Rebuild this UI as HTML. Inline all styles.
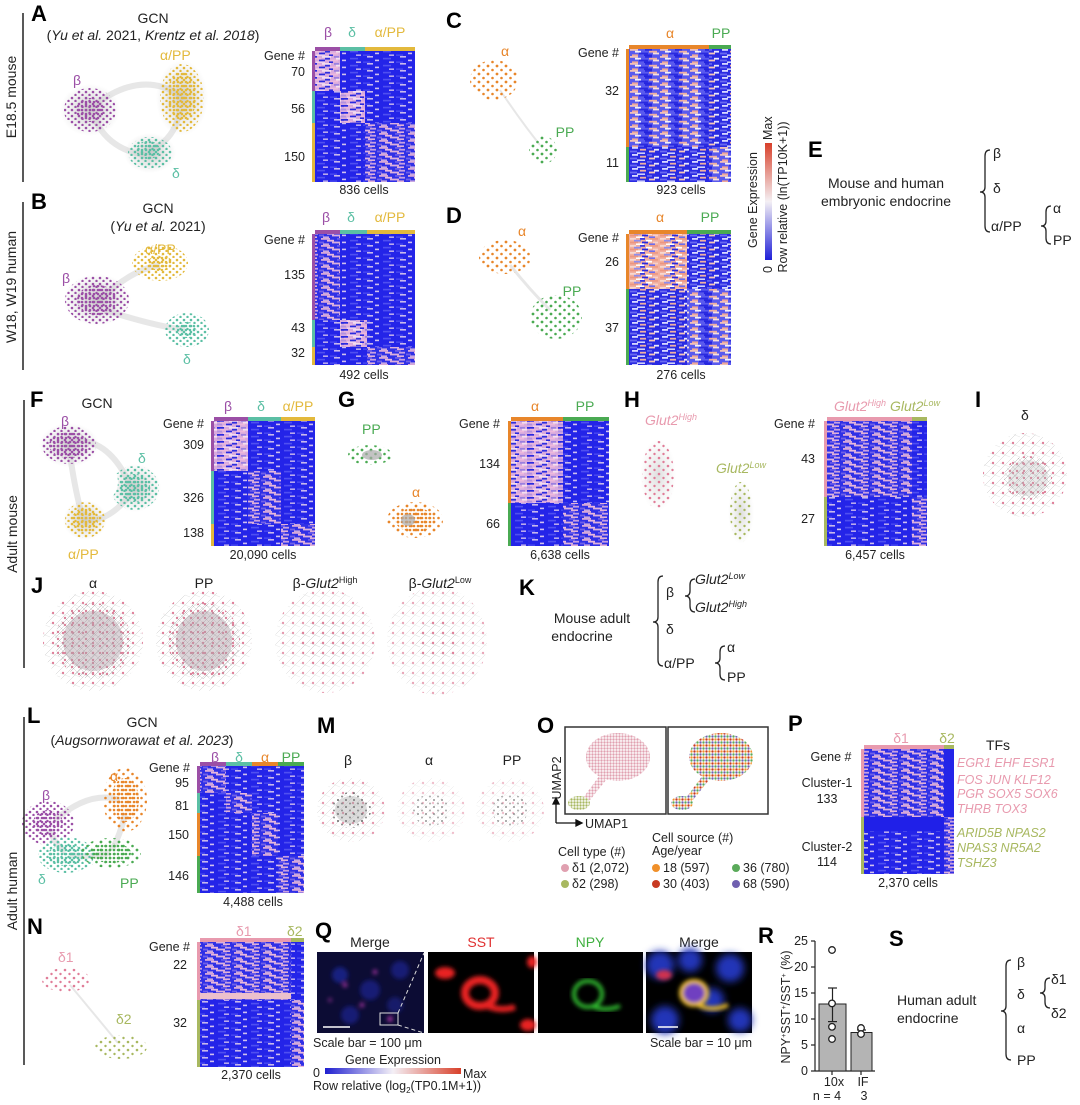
<!DOCTYPE html>
<html><head><meta charset="utf-8"><style>
html,body{margin:0;padding:0;background:#fff}
svg{display:block;font-family:"Liberation Sans",sans-serif}
.L{font-size:22px;font-weight:bold;fill:#000}
.t{font-size:12.5px;fill:#222}
.s{font-size:14px;fill:#222}
</style></head><body>
<svg width="1080" height="1105" viewBox="0 0 1080 1105" xmlns="http://www.w3.org/2000/svg">
<defs>
<linearGradient id="gv" x1="0" y1="1" x2="0" y2="0"><stop offset="0" stop-color="#1f1fd8"/><stop offset=".5" stop-color="#f4f0f4"/><stop offset="1" stop-color="#d8402a"/></linearGradient>
<linearGradient id="gh" x1="0" y1="0" x2="1" y2="0"><stop offset="0" stop-color="#1f1fd0"/><stop offset=".5" stop-color="#f4f0f6"/><stop offset="1" stop-color="#d8402a"/></linearGradient>
<filter id="b2"><feGaussianBlur stdDeviation="2"/></filter>
<filter id="b4"><feGaussianBlur stdDeviation="4"/></filter>
<!-- heatmap textures -->
<pattern id="ph" width="31" height="7" patternUnits="userSpaceOnUse">
<rect width="31" height="7" fill="#d8aade"/>
<rect x="0" y="0" width="7" height="1.8" fill="#2a2ae0"/><rect x="12" y="0" width="9" height="1.8" fill="#f2dcf0"/><rect x="24" y="0" width="5" height="1.8" fill="#9a80e0"/>
<rect x="3" y="1.8" width="8" height="1.8" fill="#eab8dc"/><rect x="15" y="1.8" width="5" height="1.8" fill="#3030e0"/><rect x="26" y="1.8" width="5" height="1.8" fill="#f4e0f0"/>
<rect x="0" y="3.6" width="5" height="1.8" fill="#b090e0"/><rect x="9" y="3.6" width="6" height="1.8" fill="#2a2ae0"/><rect x="20" y="3.6" width="8" height="1.8" fill="#eeb8dc"/>
<rect x="6" y="5.4" width="9" height="1.6" fill="#f0d0ec"/><rect x="19" y="5.4" width="4" height="1.6" fill="#2a2ae0"/>
</pattern>
<pattern id="pm" width="29" height="7" patternUnits="userSpaceOnUse">
<rect width="29" height="7" fill="#3030e6"/>
<rect x="2" y="0" width="9" height="1.8" fill="#d8a8d8"/><rect x="18" y="0" width="6" height="1.8" fill="#6a5ae8"/>
<rect x="8" y="1.8" width="7" height="1.8" fill="#e8b8dc"/><rect x="22" y="1.8" width="6" height="1.8" fill="#c8a0e0"/>
<rect x="0" y="3.6" width="5" height="1.8" fill="#7060e8"/><rect x="13" y="3.6" width="9" height="1.8" fill="#dcb0dc"/>
<rect x="4" y="5.4" width="6" height="1.6" fill="#c8a8e0"/><rect x="20" y="5.4" width="7" height="1.6" fill="#e0b0d8"/>
</pattern>
<pattern id="pl" width="33" height="7" patternUnits="userSpaceOnUse">
<rect width="33" height="7" fill="#2424e8"/>
<rect x="4" y="0" width="6" height="1.6" fill="#c8b8ec"/><rect x="20" y="1.8" width="8" height="1.6" fill="#5050f0"/>
<rect x="12" y="3.6" width="4" height="1.6" fill="#d0c0ee"/><rect x="26" y="5.4" width="5" height="1.6" fill="#b8a8ec"/><rect x="0" y="5.4" width="7" height="1.6" fill="#4444f0"/>
</pattern>
<pattern id="rh" width="30" height="7" patternUnits="userSpaceOnUse">
<rect width="30" height="7" fill="#f2b0a0"/>
<rect x="0" y="0" width="6" height="1.8" fill="#f8d8d0"/><rect x="10" y="0" width="5" height="1.8" fill="#3a3ae0"/><rect x="20" y="0" width="8" height="1.8" fill="#ee9a86"/>
<rect x="4" y="1.8" width="7" height="1.8" fill="#8c8cf0"/><rect x="16" y="1.8" width="6" height="1.8" fill="#fff"/>
<rect x="0" y="3.6" width="8" height="1.8" fill="#ec9680"/><rect x="12" y="3.6" width="6" height="1.8" fill="#2a2ae0"/><rect x="23" y="3.6" width="5" height="1.8" fill="#f8d0c8"/>
<rect x="6" y="5.4" width="8" height="1.6" fill="#ffffff"/><rect x="19" y="5.4" width="6" height="1.6" fill="#6c6cee"/>
</pattern>
<pattern id="rm" width="30" height="7" patternUnits="userSpaceOnUse">
<rect width="30" height="7" fill="#5a5aee"/>
<rect x="0" y="0" width="8" height="1.8" fill="#f0c0b8"/><rect x="15" y="0" width="7" height="1.8" fill="#2a2ae0"/>
<rect x="5" y="1.8" width="6" height="1.8" fill="#f4f0f8"/><rect x="19" y="1.8" width="8" height="1.8" fill="#f0b0a0"/>
<rect x="9" y="3.6" width="9" height="1.8" fill="#2a2ae0"/><rect x="23" y="3.6" width="6" height="1.8" fill="#f8e0dc"/>
<rect x="2" y="5.4" width="6" height="1.6" fill="#f0a898"/><rect x="14" y="5.4" width="8" height="1.6" fill="#2424e0"/>
</pattern>
<pattern id="rl" width="30" height="7" patternUnits="userSpaceOnUse">
<rect width="30" height="7" fill="#2a2ae2"/>
<rect x="2" y="0" width="6" height="1.8" fill="#d8d8ff"/><rect x="17" y="0" width="5" height="1.8" fill="#6060f0"/>
<rect x="10" y="1.8" width="6" height="1.8" fill="#f0b0a0"/><rect x="24" y="1.8" width="5" height="1.8" fill="#e8e8ff"/>
<rect x="0" y="3.6" width="7" height="1.8" fill="#6a6af0"/><rect x="19" y="3.6" width="6" height="1.8" fill="#f4c4b8"/>
<rect x="7" y="5.4" width="8" height="1.6" fill="#d0d0fa"/>
</pattern>
<!-- node textures -->
<pattern id="npu" width="4" height="4" patternUnits="userSpaceOnUse"><circle cx="2" cy="2" r="1.3" fill="#9b4fa6"/></pattern>
<pattern id="nye" width="4" height="4" patternUnits="userSpaceOnUse"><circle cx="2" cy="2" r="1.3" fill="#e3b93c"/></pattern>
<pattern id="nte" width="4" height="4" patternUnits="userSpaceOnUse"><circle cx="2" cy="2" r="1.3" fill="#5bbfa4"/></pattern>
<pattern id="nor" width="4" height="4" patternUnits="userSpaceOnUse"><circle cx="2" cy="2" r="1.3" fill="#e8862a"/></pattern>
<pattern id="ngr" width="4" height="4" patternUnits="userSpaceOnUse"><circle cx="2" cy="2" r="1.3" fill="#4aaa52"/></pattern>
<pattern id="spu" width="7" height="6" patternUnits="userSpaceOnUse"><circle cx="2" cy="2" r="1.3" fill="#9b4fa6"/><circle cx="5.5" cy="5" r="1.2" fill="#9b4fa6"/></pattern>
<pattern id="sye" width="7" height="6" patternUnits="userSpaceOnUse"><circle cx="2" cy="2" r="1.3" fill="#e3b93c"/><circle cx="5.5" cy="5" r="1.2" fill="#e3b93c"/></pattern>
<pattern id="ste" width="7" height="6" patternUnits="userSpaceOnUse"><circle cx="2" cy="2" r="1.3" fill="#5bbfa4"/><circle cx="5.5" cy="5" r="1.2" fill="#5bbfa4"/></pattern>
<pattern id="sor" width="9" height="8" patternUnits="userSpaceOnUse"><circle cx="2" cy="2" r="1.4" fill="#e8862a"/><circle cx="6.5" cy="6" r="1.3" fill="#e8862a"/></pattern>
<pattern id="sgr" width="9" height="8" patternUnits="userSpaceOnUse"><circle cx="2" cy="2" r="1.4" fill="#4aaa52"/><circle cx="6.5" cy="6" r="1.3" fill="#4aaa52"/></pattern>
<pattern id="spk" width="9" height="8" patternUnits="userSpaceOnUse"><circle cx="2" cy="2" r="1.3" fill="#e07d98"/><circle cx="6.5" cy="6" r="1.2" fill="#e07d98"/></pattern>
<pattern id="sol" width="9" height="8" patternUnits="userSpaceOnUse"><circle cx="2" cy="2" r="1.3" fill="#a8b860"/><circle cx="6.5" cy="6" r="1.2" fill="#a8b860"/></pattern>
<pattern id="sgy" width="8" height="7" patternUnits="userSpaceOnUse"><circle cx="2" cy="2" r="1" fill="#666"/><circle cx="6" cy="5.5" r="1" fill="#888"/></pattern>
<pattern id="jpk" width="7" height="7" patternUnits="userSpaceOnUse"><circle cx="2" cy="2" r="1.2" fill="#e07d98"/><line x1="0" y1="7" x2="7" y2="0" stroke="#999" stroke-width=".4"/><line x1="0" y1="0" x2="7" y2="7" stroke="#aaa" stroke-width=".3"/></pattern>
<pattern id="jpl" width="10" height="10" patternUnits="userSpaceOnUse"><circle cx="3" cy="3" r="1.2" fill="#e07d98"/><line x1="0" y1="10" x2="10" y2="0" stroke="#bbb" stroke-width=".4"/><line x1="0" y1="3" x2="10" y2="7" stroke="#ccc" stroke-width=".3"/></pattern>
<pattern id="upk" width="3" height="3" patternUnits="userSpaceOnUse"><rect width="3" height="3" fill="#fff"/><circle cx="1.5" cy="1.5" r="1.2" fill="#e0a0b0"/></pattern>
<pattern id="umx" width="6" height="6" patternUnits="userSpaceOnUse"><rect width="6" height="6" fill="#fff"/><circle cx="1.5" cy="1.5" r="1.2" fill="#f0902a"/><circle cx="4.5" cy="1.5" r="1.2" fill="#c83a22"/><circle cx="1.5" cy="4.5" r="1.2" fill="#5aaa5a"/><circle cx="4.5" cy="4.5" r="1.2" fill="#7060b0"/></pattern>
<pattern id="uol" width="3" height="3" patternUnits="userSpaceOnUse"><rect width="3" height="3" fill="#fff"/><circle cx="1.5" cy="1.5" r="1.2" fill="#a8b860"/></pattern>
<radialGradient id="halo"><stop offset="0" stop-color="#bbb" stop-opacity=".8"/><stop offset="1" stop-color="#ccc" stop-opacity="0"/></radialGradient>
</defs>
<rect width="1080" height="1105" fill="#fff"/>

<!-- ===== HEATMAPS ===== -->
<!-- A -->
<g>
<rect x="315" y="47" width="25" height="4" fill="#9b4fa6"/><rect x="340" y="47" width="25" height="4" fill="#5bbfa4"/><rect x="365" y="47" width="50" height="4" fill="#e3b93c"/>
<rect x="312" y="51" width="3" height="40" fill="#9b4fa6"/><rect x="312" y="91" width="3" height="32" fill="#5bbfa4"/><rect x="312" y="123" width="3" height="59" fill="#e3b93c"/>
<rect x="315" y="51" width="25" height="40" fill="url(#ph)"/><rect x="340" y="51" width="75" height="40" fill="url(#pl)"/>
<rect x="315" y="91" width="25" height="32" fill="url(#pl)"/><rect x="340" y="91" width="25" height="32" fill="url(#ph)"/><rect x="365" y="91" width="50" height="32" fill="url(#pl)"/>
<rect x="315" y="123" width="50" height="59" fill="url(#pl)"/><rect x="365" y="123" width="50" height="59" fill="url(#pm)"/>
</g>
<!-- B -->
<g>
<rect x="315" y="230" width="25" height="4" fill="#9b4fa6"/><rect x="340" y="230" width="27" height="4" fill="#5bbfa4"/><rect x="367" y="230" width="48" height="4" fill="#e3b93c"/>
<rect x="312" y="234" width="3" height="86" fill="#9b4fa6"/><rect x="312" y="320" width="3" height="27" fill="#5bbfa4"/><rect x="312" y="347" width="3" height="18" fill="#e3b93c"/>
<rect x="315" y="234" width="25" height="86" fill="url(#pm)"/><rect x="340" y="234" width="75" height="86" fill="url(#pl)"/>
<rect x="315" y="320" width="25" height="27" fill="url(#pl)"/><rect x="340" y="320" width="27" height="27" fill="url(#ph)"/><rect x="367" y="320" width="48" height="27" fill="url(#pl)"/>
<rect x="315" y="347" width="52" height="18" fill="url(#pl)"/><rect x="367" y="347" width="48" height="18" fill="url(#pm)"/>
</g>
<!-- C -->
<g>
<rect x="629" y="45" width="80" height="4" fill="#e8862a"/><rect x="709" y="45" width="22" height="4" fill="#4aaa52"/>
<rect x="626" y="49" width="3" height="98" fill="#e8862a"/><rect x="626" y="147" width="3" height="35" fill="#4aaa52"/>
<rect x="629" y="49" width="80" height="98" fill="url(#rm)"/><rect x="709" y="49" width="22" height="98" fill="url(#rl)"/>
<rect x="629" y="147" width="80" height="35" fill="url(#rl)"/><rect x="709" y="147" width="22" height="35" fill="url(#rm)"/>
</g>
<!-- D -->
<g>
<rect x="629" y="230" width="58" height="4" fill="#e8862a"/><rect x="687" y="230" width="44" height="4" fill="#4aaa52"/>
<rect x="626" y="234" width="3" height="55" fill="#e8862a"/><rect x="626" y="289" width="3" height="76" fill="#4aaa52"/>
<rect x="629" y="234" width="58" height="55" fill="url(#rh)"/><rect x="687" y="234" width="44" height="55" fill="url(#rl)"/>
<rect x="629" y="289" width="58" height="76" fill="url(#rl)"/><rect x="687" y="289" width="44" height="76" fill="url(#rm)"/>
</g>
<!-- F -->
<g>
<rect x="214" y="417" width="34" height="4" fill="#9b4fa6"/><rect x="248" y="417" width="33" height="4" fill="#5bbfa4"/><rect x="281" y="417" width="34" height="4" fill="#e3b93c"/>
<rect x="211" y="421" width="3" height="50" fill="#9b4fa6"/><rect x="211" y="471" width="3" height="53" fill="#5bbfa4"/><rect x="211" y="524" width="3" height="22" fill="#e3b93c"/>
<rect x="214" y="421" width="34" height="50" fill="url(#ph)"/><rect x="248" y="421" width="67" height="50" fill="url(#pl)"/>
<rect x="214" y="471" width="34" height="53" fill="url(#pl)"/><rect x="248" y="471" width="33" height="53" fill="url(#pm)"/><rect x="281" y="471" width="34" height="53" fill="url(#pl)"/>
<rect x="214" y="524" width="67" height="22" fill="url(#pl)"/><rect x="281" y="524" width="34" height="22" fill="url(#pm)"/>
</g>
<!-- G -->
<g>
<rect x="511" y="417" width="52" height="4" fill="#e8862a"/><rect x="563" y="417" width="46" height="4" fill="#4aaa52"/>
<rect x="508" y="421" width="3" height="82" fill="#e8862a"/><rect x="508" y="503" width="3" height="43" fill="#4aaa52"/>
<rect x="511" y="421" width="52" height="82" fill="url(#ph)"/><rect x="563" y="421" width="46" height="82" fill="url(#pl)"/>
<rect x="511" y="503" width="52" height="43" fill="url(#pl)"/><rect x="563" y="503" width="46" height="43" fill="url(#pm)"/>
</g>
<!-- H -->
<g>
<rect x="827" y="417" width="85" height="4" fill="#e89aae"/><rect x="912" y="417" width="15" height="4" fill="#a8b860"/>
<rect x="824" y="421" width="3" height="76" fill="#e89aae"/><rect x="824" y="497" width="3" height="49" fill="#a8b860"/>
<rect x="827" y="421" width="85" height="76" fill="url(#pm)"/><rect x="912" y="421" width="15" height="76" fill="url(#pl)"/>
<rect x="827" y="497" width="85" height="49" fill="url(#pl)"/><rect x="912" y="497" width="15" height="49" fill="url(#pm)"/>
</g>
<!-- L -->
<g>
<rect x="200" y="762" width="26" height="4" fill="#9b4fa6"/><rect x="226" y="762" width="26" height="4" fill="#5bbfa4"/><rect x="252" y="762" width="26" height="4" fill="#e8862a"/><rect x="278" y="762" width="26" height="4" fill="#4aaa52"/>
<rect x="197" y="766" width="3" height="27" fill="#9b4fa6"/><rect x="197" y="793" width="3" height="20" fill="#5bbfa4"/><rect x="197" y="813" width="3" height="43" fill="#e8862a"/><rect x="197" y="856" width="3" height="37" fill="#4aaa52"/>
<rect x="200" y="766" width="104" height="127" fill="url(#pl)"/>
<rect x="200" y="766" width="26" height="27" fill="url(#pm)"/><rect x="226" y="793" width="26" height="20" fill="url(#pm)"/><rect x="252" y="813" width="26" height="43" fill="url(#pm)"/><rect x="278" y="856" width="26" height="37" fill="url(#pm)"/>
</g>
<!-- N -->
<g>
<rect x="200" y="938" width="91" height="4" fill="#e89aae"/><rect x="291" y="938" width="13" height="4" fill="#a8b860"/>
<rect x="197" y="942" width="3" height="58" fill="#e89aae"/><rect x="197" y="1000" width="3" height="67" fill="#a8b860"/>
<rect x="200" y="942" width="91" height="58" fill="url(#pm)"/><rect x="291" y="942" width="13" height="58" fill="url(#pl)"/>
<rect x="200" y="1000" width="91" height="67" fill="url(#pl)"/><rect x="291" y="1000" width="13" height="67" fill="url(#pm)"/>
<rect x="200" y="993" width="91" height="6" fill="#ecc0cc"/>
</g>
<!-- P -->
<g>
<rect x="864" y="745" width="80" height="4" fill="#e89aae"/><rect x="944" y="745" width="10" height="4" fill="#a8b860"/>
<rect x="861" y="749" width="3" height="68" fill="#e89aae"/><rect x="861" y="817" width="3" height="57" fill="#a8b860"/>
<rect x="864" y="749" width="80" height="68" fill="url(#pm)"/><rect x="944" y="749" width="10" height="68" fill="#2424e8"/>
<rect x="864" y="817" width="80" height="57" fill="url(#pl)"/><rect x="864" y="817" width="80" height="14" fill="#2020e8"/><rect x="944" y="817" width="10" height="57" fill="url(#pm)"/>
</g>

<!-- ===== NETWORKS ===== -->
<g stroke="#bbb" stroke-width="6" stroke-opacity=".35" fill="none">
<path d="M95,105 Q140,70 180,95"/><path d="M180,110 Q175,140 150,150"/><path d="M95,120 Q110,150 145,155"/>
<path d="M100,300 Q130,270 160,265"/><path d="M105,310 Q150,325 185,330"/>
<path d="M75,440 Q110,440 130,485"/><path d="M130,495 Q110,520 90,520"/><path d="M70,455 Q75,490 82,515"/>
<path d="M55,820 Q90,790 120,800"/><path d="M70,855 Q90,858 110,853"/><path d="M50,830 Q55,845 65,852"/><path d="M125,815 Q120,835 112,850"/>
<path d="M500,90 Q520,120 540,145" stroke-width="2"/><path d="M510,265 Q530,290 550,310" stroke-width="3"/><path d="M70,985 Q95,1015 118,1043" stroke-width="2"/>
</g>
<g>
<!-- A -->
<ellipse cx="90" cy="110" rx="30" ry="26" fill="url(#halo)"/><ellipse cx="90" cy="110" rx="26" ry="22" fill="url(#spu)"/><ellipse cx="90" cy="110" rx="14" ry="12" fill="url(#npu)"/>
<ellipse cx="182" cy="98" rx="26" ry="38" fill="url(#halo)"/><ellipse cx="182" cy="98" rx="22" ry="34" fill="url(#sye)"/><ellipse cx="182" cy="96" rx="15" ry="24" fill="url(#nye)"/>
<ellipse cx="150" cy="153" rx="26" ry="20" fill="url(#halo)"/><ellipse cx="150" cy="153" rx="22" ry="16" fill="url(#ste)"/><ellipse cx="148" cy="150" rx="12" ry="9" fill="url(#nte)"/>
<!-- B -->
<ellipse cx="97" cy="300" rx="34" ry="26" fill="url(#halo)"/><ellipse cx="97" cy="300" rx="32" ry="24" fill="url(#spu)"/><ellipse cx="97" cy="300" rx="20" ry="15" fill="url(#npu)"/>
<ellipse cx="160" cy="263" rx="28" ry="18" fill="url(#sye)"/><ellipse cx="160" cy="263" rx="12" ry="8" fill="url(#nye)"/>
<ellipse cx="187" cy="330" rx="22" ry="17" fill="url(#ste)"/><ellipse cx="187" cy="330" rx="10" ry="8" fill="url(#nte)"/>
<!-- C D -->
<ellipse cx="494" cy="80" rx="24" ry="20" fill="url(#sor)"/>
<ellipse cx="543" cy="150" rx="14" ry="14" fill="url(#sgr)"/>
<ellipse cx="505" cy="257" rx="26" ry="17" fill="url(#sor)"/>
<ellipse cx="556" cy="317" rx="26" ry="22" fill="url(#sgr)"/>
<!-- F -->
<ellipse cx="69" cy="445" rx="30" ry="22" fill="url(#halo)"/><ellipse cx="69" cy="445" rx="27" ry="19" fill="url(#spu)"/><ellipse cx="69" cy="445" rx="20" ry="13" fill="url(#npu)"/>
<ellipse cx="135" cy="488" rx="26" ry="24" fill="url(#halo)"/><ellipse cx="135" cy="488" rx="24" ry="22" fill="url(#ste)"/><ellipse cx="135" cy="488" rx="15" ry="14" fill="url(#nte)"/>
<ellipse cx="85" cy="520" rx="22" ry="20" fill="url(#halo)"/><ellipse cx="85" cy="520" rx="20" ry="18" fill="url(#sye)"/><ellipse cx="85" cy="520" rx="13" ry="12" fill="url(#nye)"/>
<ellipse cx="100" cy="482" rx="18" ry="20" fill="#fff"/>
<!-- G -->
<ellipse cx="370" cy="455" rx="22" ry="10" fill="url(#sgr)"/><ellipse cx="372" cy="455" rx="10" ry="5" fill="#aaa" opacity=".7"/>
<ellipse cx="415" cy="520" rx="28" ry="18" fill="url(#sor)"/><ellipse cx="415" cy="520" rx="20" ry="12" fill="url(#nor)"/><ellipse cx="408" cy="520" rx="7" ry="6" fill="#aaa" opacity=".7"/>
<!-- H -->
<ellipse cx="658" cy="475" rx="18" ry="36" fill="url(#halo)" opacity=".6"/><ellipse cx="658" cy="475" rx="16" ry="34" fill="url(#spk)"/>
<ellipse cx="741" cy="512" rx="13" ry="32" fill="url(#halo)" opacity=".6"/><ellipse cx="741" cy="512" rx="11" ry="30" fill="url(#sol)"/>
<!-- I -->
<ellipse cx="1025" cy="475" rx="42" ry="42" fill="url(#jpl)"/><ellipse cx="1028" cy="478" rx="24" ry="22" fill="url(#jpk)"/><ellipse cx="1028" cy="478" rx="20" ry="18" fill="#bbb" opacity=".3"/>
<!-- J -->
<ellipse cx="93" cy="641" rx="50" ry="50" fill="url(#jpl)"/><ellipse cx="93" cy="641" rx="38" ry="38" fill="url(#jpk)"/><ellipse cx="93" cy="641" rx="30" ry="30" fill="#b0a0a8" opacity=".45"/>
<ellipse cx="204" cy="641" rx="48" ry="50" fill="url(#jpl)"/><ellipse cx="204" cy="641" rx="36" ry="38" fill="url(#jpk)"/><ellipse cx="204" cy="641" rx="28" ry="30" fill="#b0a0a8" opacity=".45"/>
<ellipse cx="325" cy="641" rx="50" ry="52" fill="url(#jpl)" opacity=".8"/><ellipse cx="325" cy="641" rx="25" ry="26" fill="url(#jpl)"/>
<ellipse cx="437" cy="641" rx="50" ry="54" fill="url(#jpl)" opacity=".7"/><ellipse cx="437" cy="641" rx="22" ry="22" fill="url(#jpl)"/>
<!-- L -->
<ellipse cx="48" cy="823" rx="26" ry="22" fill="url(#spu)"/><ellipse cx="48" cy="823" rx="15" ry="13" fill="url(#npu)"/>
<ellipse cx="125" cy="800" rx="22" ry="32" fill="url(#sor)"/><ellipse cx="125" cy="800" rx="14" ry="22" fill="url(#nor)"/>
<ellipse cx="66" cy="855" rx="28" ry="18" fill="url(#ste)"/><ellipse cx="66" cy="855" rx="18" ry="11" fill="url(#nte)"/>
<ellipse cx="111" cy="853" rx="30" ry="15" fill="url(#sgr)"/><ellipse cx="111" cy="853" rx="20" ry="10" fill="url(#ngr)"/>
<!-- M -->
<ellipse cx="351" cy="810" rx="34" ry="32" fill="url(#jpl)" opacity=".8"/><ellipse cx="351" cy="810" rx="20" ry="18" fill="url(#sgy)"/><ellipse cx="351" cy="810" rx="16" ry="14" fill="#999" opacity=".35"/>
<ellipse cx="431" cy="810" rx="34" ry="32" fill="url(#jpl)" opacity=".5"/><ellipse cx="431" cy="810" rx="18" ry="16" fill="url(#sgy)" opacity=".7"/>
<ellipse cx="510" cy="810" rx="34" ry="32" fill="url(#jpl)" opacity=".5"/><ellipse cx="510" cy="810" rx="18" ry="16" fill="url(#sgy)" opacity=".7"/>
<!-- N -->
<ellipse cx="66" cy="980" rx="24" ry="12" fill="url(#spk)"/>
<ellipse cx="121" cy="1047" rx="26" ry="12" fill="url(#sol)"/>
</g>

<!-- side lines -->
<g stroke="#222" stroke-width="1.5">
<line x1="23" y1="13" x2="23" y2="182"/><line x1="23" y1="202" x2="23" y2="370"/>
<line x1="24" y1="400" x2="24" y2="668"/><line x1="24" y1="717" x2="24" y2="1065"/>
</g>
<g class="s">
<text transform="translate(16,97) rotate(-90)" text-anchor="middle">E18.5 mouse</text>
<text transform="translate(16,287) rotate(-90)" text-anchor="middle">W18, W19  human</text>
<text transform="translate(17,534) rotate(-90)" text-anchor="middle">Adult mouse</text>
<text transform="translate(17,891) rotate(-90)" text-anchor="middle">Adult human</text>
</g>

<g class="L">
<text x="31" y="21">A</text><text x="31" y="209">B</text><text x="446" y="28">C</text><text x="446" y="223">D</text><text x="808" y="157">E</text>
<text x="30" y="407">F</text><text x="338" y="407">G</text><text x="624" y="407">H</text><text x="975" y="407">I</text>
<text x="31" y="593">J</text><text x="519" y="595">K</text>
<text x="27" y="723">L</text><text x="317" y="733">M</text><text x="537" y="733">O</text><text x="788" y="731">P</text>
<text x="27" y="934">N</text><text x="315" y="938">Q</text><text x="758" y="943">R</text><text x="889" y="946">S</text>
</g>

<g class="s" text-anchor="middle">
<text x="153" y="23">GCN</text>
<text x="153" y="40">(<tspan font-style="italic">Yu et al.</tspan> 2021, <tspan font-style="italic">Krentz et al. 2018</tspan>)</text>
<text x="158" y="213">GCN</text>
<text x="158" y="231">(<tspan font-style="italic">Yu et al.</tspan> 2021)</text>
</g>
<g class="s">
<text x="73" y="85" style="fill:#9b4fa6">β</text>
<text x="160" y="60" style="fill:#e3b93c">α/PP</text>
<text x="172" y="178" style="fill:#5bbfa4">δ</text>
<text x="62" y="283" style="fill:#9b4fa6">β</text>
<text x="145" y="254" style="fill:#e3b93c">α/PP</text>
<text x="183" y="364" style="fill:#5bbfa4">δ</text>
</g>
<g class="t" text-anchor="end">
<text x="305" y="60">Gene #</text><text x="305" y="76">70</text><text x="305" y="113">56</text><text x="305" y="161">150</text>
<text x="305" y="244">Gene #</text><text x="305" y="279">135</text><text x="305" y="332">43</text><text x="305" y="357">32</text>
<text x="619" y="57">Gene #</text><text x="619" y="95">32</text><text x="619" y="167">11</text>
<text x="619" y="242">Gene #</text><text x="619" y="266">26</text><text x="619" y="332">37</text>
</g>
<g class="s" text-anchor="middle">
<text x="328" y="37" style="fill:#9b4fa6">β</text><text x="352" y="37" style="fill:#5bbfa4">δ</text><text x="390" y="37" style="fill:#e3b93c">α/PP</text>
<text x="326" y="222" style="fill:#9b4fa6">β</text><text x="351" y="222" style="fill:#5bbfa4">δ</text><text x="390" y="222" style="fill:#e3b93c">α/PP</text>
<text x="670" y="38" style="fill:#e8862a">α</text><text x="721" y="38" style="fill:#4aaa52">PP</text>
<text x="660" y="222" style="fill:#e8862a">α</text><text x="710" y="222" style="fill:#4aaa52">PP</text>
<text x="505" y="56" style="fill:#e8862a">α</text><text x="565" y="137" style="fill:#4aaa52">PP</text>
<text x="522" y="236" style="fill:#e8862a">α</text><text x="572" y="296" style="fill:#4aaa52">PP</text>
</g>
<g class="t" text-anchor="middle">
<text x="364" y="194">836 cells</text><text x="364" y="379">492 cells</text>
<text x="681" y="194">923 cells</text><text x="681" y="379">276 cells</text>
</g>
<rect x="765" y="143" width="7" height="117" fill="url(#gv)"/>
<g class="t" font-size="11.5">
<text transform="translate(772,140) rotate(-90)">Max</text>
<text transform="translate(772,273) rotate(-90)">0</text>
<text transform="translate(757,200) rotate(-90)" text-anchor="middle">Gene Expression</text>
<text transform="translate(787,197) rotate(-90)" text-anchor="middle">Row relative (ln(TP10K+1))</text>
</g>
<g class="s">
<text x="886" y="188" text-anchor="middle">Mouse and human</text>
<text x="886" y="206" text-anchor="middle">embryonic endocrine</text>
<text x="993" y="158">β</text><text x="993" y="193">δ</text><text x="991" y="231">α/PP</text>
<text x="1053" y="213">α</text><text x="1053" y="245">PP</text>
</g>

<g class="s">
<text x="97" y="408" text-anchor="middle">GCN</text>
<text x="61" y="426" style="fill:#9b4fa6">β</text><text x="138" y="463" style="fill:#5bbfa4">δ</text><text x="68" y="559" style="fill:#e3b93c">α/PP</text>
<text x="362" y="434" style="fill:#4aaa52">PP</text><text x="412" y="497" style="fill:#e8862a">α</text>
<text x="1021" y="420">δ</text>
<text x="228" y="411" text-anchor="middle" style="fill:#9b4fa6">β</text><text x="261" y="411" text-anchor="middle" style="fill:#5bbfa4">δ</text><text x="298" y="411" text-anchor="middle" style="fill:#e3b93c">α/PP</text>
<text x="535" y="411" text-anchor="middle" style="fill:#e8862a">α</text><text x="585" y="411" text-anchor="middle" style="fill:#4aaa52">PP</text>
<text x="645" y="425" font-style="italic" style="fill:#e89aae">Glut2<tspan dy="-5" font-size="9">High</tspan></text>
<text x="716" y="473" font-style="italic" style="fill:#a8b860">Glut2<tspan dy="-5" font-size="9">Low</tspan></text>
<text x="834" y="411" font-style="italic" style="fill:#e89aae">Glut2<tspan dy="-5" font-size="9">High</tspan></text>
<text x="890" y="411" font-style="italic" style="fill:#a8b860">Glut2<tspan dy="-5" font-size="9">Low</tspan></text>
</g>
<g class="t" text-anchor="end">
<text x="204" y="428">Gene #</text><text x="204" y="449">309</text><text x="204" y="502">326</text><text x="204" y="537">138</text>
<text x="500" y="428">Gene #</text><text x="500" y="468">134</text><text x="500" y="528">66</text>
<text x="815" y="428">Gene #</text><text x="815" y="463">43</text><text x="815" y="523">27</text>
</g>
<g class="t" text-anchor="middle">
<text x="263" y="559">20,090 cells</text><text x="560" y="559">6,638 cells</text><text x="875" y="559">6,457 cells</text>
</g>
<g class="s" text-anchor="middle">
<text x="93" y="588">α</text><text x="204" y="588">PP</text>
<text x="325" y="588">β-<tspan font-style="italic">Glut2</tspan><tspan dy="-5" font-size="9">High</tspan></text>
<text x="440" y="588">β-<tspan font-style="italic">Glut2</tspan><tspan dy="-5" font-size="9">Low</tspan></text>
</g>
<g class="s">
<text x="592" y="623" text-anchor="middle">Mouse adult</text><text x="582" y="641" text-anchor="middle">endocrine</text>
<text x="666" y="597">β</text><text x="666" y="634">δ</text><text x="664" y="668">α/PP</text>
<text x="695" y="584" font-style="italic">Glut2<tspan dy="-5" font-size="9">Low</tspan></text>
<text x="695" y="612" font-style="italic">Glut2<tspan dy="-5" font-size="9">High</tspan></text>
<text x="727" y="652">α</text><text x="727" y="682">PP</text>
</g>

<g class="s" text-anchor="middle">
<text x="142" y="727">GCN</text>
<text x="142" y="745">(<tspan font-style="italic">Augsornworawat et al. 2023</tspan>)</text>
<text x="215" y="762" style="fill:#9b4fa6">β</text><text x="239" y="762" style="fill:#5bbfa4">δ</text><text x="265" y="762" style="fill:#e8862a">α</text><text x="291" y="762" style="fill:#4aaa52">PP</text>
<text x="348" y="765">β</text><text x="429" y="765">α</text><text x="512" y="765">PP</text>
</g>
<g class="s">
<text x="42" y="800" style="fill:#9b4fa6">β</text><text x="110" y="781" style="fill:#e8862a">α</text>
<text x="38" y="884" style="fill:#5bbfa4">δ</text><text x="120" y="888" style="fill:#4aaa52">PP</text>
<text x="58" y="962" style="fill:#e89aae">δ1</text><text x="116" y="1024" style="fill:#a8b860">δ2</text>
<text x="236" y="936" style="fill:#e89aae">δ1</text><text x="287" y="936" style="fill:#a8b860">δ2</text>
</g>
<g class="t" text-anchor="end">
<text x="190" y="772">Gene #</text><text x="189" y="787">95</text><text x="189" y="810">81</text><text x="189" y="839">150</text><text x="189" y="880">146</text>
<text x="190" y="951">Gene #</text><text x="187" y="969">22</text><text x="187" y="1027">32</text>
</g>
<g class="t" text-anchor="middle"><text x="253" y="906">4,488 cells</text><text x="251" y="1079">2,370 cells</text></g>

<!-- O -->
<ellipse cx="618" cy="757" rx="32" ry="24" fill="url(#upk)"/>
<path d="M600,775 L583,798 L590,800 L606,780Z" fill="url(#upk)"/>
<ellipse cx="579" cy="803" rx="11" ry="7" fill="url(#uol)"/>
<ellipse cx="721" cy="757" rx="32" ry="24" fill="url(#umx)"/>
<path d="M703,775 L686,798 L693,800 L709,780Z" fill="url(#umx)"/>
<ellipse cx="682" cy="803" rx="11" ry="7" fill="url(#umx)"/>
<rect x="565" y="727" width="101" height="87" fill="none" stroke="#333" stroke-width="1.5"/>
<rect x="668" y="727" width="100" height="87" fill="none" stroke="#333" stroke-width="1.5"/>
<g stroke="#111" stroke-width="1.3" fill="#111">
<line x1="556" y1="823" x2="556" y2="802"/><path d="M553,804 L556,798 L559,804Z"/>
<line x1="556" y1="823" x2="578" y2="823"/><path d="M576,820 L582,823 L576,826Z"/>
</g>
<g class="t">
<text transform="translate(561,778) rotate(-90)" text-anchor="middle">UMAP2</text>
<text x="585" y="828">UMAP1</text>
<text x="558" y="856">Cell type (#)</text>
<text x="572" y="872">δ1 (2,072)</text><text x="572" y="888">δ2 (298)</text>
<text x="652" y="842">Cell source (#)</text><text x="652" y="855">Age/year</text>
<text x="663" y="872">18 (597)</text><text x="663" y="888">30 (403)</text>
<text x="743" y="872">36 (780)</text><text x="743" y="888">68 (590)</text>
</g>
<circle cx="565" cy="868" r="4" fill="#e0a0b0"/><circle cx="565" cy="884" r="4" fill="#a8b860"/>
<circle cx="656" cy="868" r="4" fill="#f0902a"/><circle cx="656" cy="884" r="4" fill="#c83a22"/>
<circle cx="736" cy="868" r="4" fill="#5aaa5a"/><circle cx="736" cy="884" r="4" fill="#7060b0"/>

<!-- P -->
<g class="s"><text x="901" y="743" text-anchor="middle" style="fill:#e89aae">δ1</text><text x="947" y="743" text-anchor="middle" style="fill:#a8b860">δ2</text>
<text x="998" y="750" text-anchor="middle">TFs</text></g>
<g class="t" text-anchor="middle">
<text x="831" y="761">Gene #</text><text x="827" y="787">Cluster-1</text><text x="827" y="803">133</text>
<text x="827" y="851">Cluster-2</text><text x="827" y="866">114</text>
<text x="908" y="887">2,370 cells</text>
</g>
<g class="t" font-style="italic" font-size="12">
<text x="957" y="767" style="fill:#e89aae">EGR1 EHF ESR1</text>
<text x="957" y="784" style="fill:#e89aae">FOS JUN KLF12</text>
<text x="957" y="798" style="fill:#e89aae">PGR SOX5 SOX6</text>
<text x="957" y="813" style="fill:#e89aae">THRB TOX3</text>
<text x="957" y="837" style="fill:#a8b860">ARID5B NPAS2</text>
<text x="957" y="852" style="fill:#a8b860">NPAS3 NR5A2</text>
<text x="957" y="867" style="fill:#a8b860">TSHZ3</text>
</g>

<!-- Q -->
<g class="s" text-anchor="middle">
<text x="370" y="947">Merge</text><text x="481" y="947" style="fill:#e03030">SST</text><text x="590" y="947" style="fill:#40b040">NPY</text><text x="699" y="947">Merge</text>
</g>
<rect x="317" y="952" width="107" height="81" fill="#0c0c34"/>
<g filter="url(#b2)">
<circle cx="340" cy="975" r="8" fill="#2028a0" opacity=".7"/><circle cx="370" cy="990" r="10" fill="#2028a0" opacity=".6"/><circle cx="400" cy="970" r="9" fill="#2028a0" opacity=".6"/><circle cx="350" cy="1015" r="9" fill="#2028a0" opacity=".6"/><circle cx="395" cy="1005" r="8" fill="#2028a0" opacity=".5"/>
<circle cx="345" cy="985" r="2" fill="#d040c0"/><circle cx="375" cy="972" r="2" fill="#d040c0"/><circle cx="362" cy="1005" r="2" fill="#d040c0"/><circle cx="390" cy="1019" r="2.5" fill="#d040c0"/><circle cx="330" cy="1000" r="1.5" fill="#d040c0"/>
</g>
<rect x="380" y="1013" width="18" height="12" fill="none" stroke="#ddd" stroke-width="1"/>
<line x1="398" y1="1013" x2="424" y2="953" stroke="#ddd" stroke-dasharray="4,3"/>
<line x1="398" y1="1025" x2="424" y2="1033" stroke="#ddd" stroke-dasharray="4,3"/>
<line x1="323" y1="1027" x2="350" y2="1027" stroke="#fff" stroke-width="1.5"/>
<rect x="428" y="952" width="106" height="81" fill="#000"/>
<g filter="url(#b2)" fill="#e82020">
<ellipse cx="480" cy="993" rx="15" ry="13" fill="none" stroke="#e82020" stroke-width="8"/>
<path d="M485,1005 Q500,1012 515,1007" stroke="#e82020" stroke-width="6" fill="none"/>
<ellipse cx="445" cy="973" rx="10" ry="6"/><ellipse cx="528" cy="1025" rx="8" ry="6"/><ellipse cx="532" cy="962" rx="5" ry="6"/>
</g>
<rect x="538" y="952" width="105" height="81" fill="#000"/>
<g filter="url(#b2)">
<ellipse cx="588" cy="994" rx="14" ry="13" fill="none" stroke="#30c030" stroke-width="4"/>
<path d="M592,1006 Q605,1012 620,1006" stroke="#30c030" stroke-width="4" fill="none"/>
</g>
<rect x="646" y="952" width="106" height="81" fill="#000"/>
<g filter="url(#b4)" fill="#2434b8">
<circle cx="660" cy="965" r="14"/><circle cx="690" cy="960" r="12"/><circle cx="730" cy="968" r="14"/><circle cx="665" cy="1020" r="14"/><circle cx="740" cy="1020" r="12"/><circle cx="712" cy="1000" r="12"/>
</g>
<g filter="url(#b2)">
<ellipse cx="664" cy="975" rx="8" ry="5" fill="#d03050"/>
<ellipse cx="694" cy="993" rx="12" ry="11" fill="#7040c0"/>
<ellipse cx="694" cy="993" rx="13" ry="12" fill="none" stroke="#f0c020" stroke-width="4"/>
<path d="M698,1005 Q712,1012 728,1005" stroke="#f0c020" stroke-width="4" fill="none"/>
</g>
<line x1="658" y1="1027" x2="678" y2="1027" stroke="#fff" stroke-width="1.5"/>
<g class="t">
<text x="313" y="1047">Scale bar = 100 μm</text><text x="752" y="1047" text-anchor="end">Scale bar = 10 μm</text>
<text x="393" y="1064" text-anchor="middle">Gene Expression</text>
<text x="313" y="1077">0</text><text x="463" y="1078">Max</text>
<text x="313" y="1090">Row relative (log<tspan font-size="8" dy="3">2</tspan><tspan dy="-3">(TP0.1M+1))</tspan></text>
</g>
<rect x="325" y="1068" width="136" height="6" fill="url(#gh)"/>

<!-- R -->
<g stroke="#222" stroke-width="1.2" fill="none">
<line x1="815" y1="941" x2="815" y2="1071"/>
<line x1="811" y1="941" x2="815" y2="941"/><line x1="811" y1="967" x2="815" y2="967"/><line x1="811" y1="993" x2="815" y2="993"/><line x1="811" y1="1019" x2="815" y2="1019"/><line x1="811" y1="1045" x2="815" y2="1045"/><line x1="811" y1="1071" x2="815" y2="1071"/>
<line x1="815" y1="1071" x2="875" y2="1071"/><line x1="832" y1="1071" x2="832" y2="1075"/><line x1="861" y1="1071" x2="861" y2="1075"/>
</g>
<rect x="819" y="1004" width="27" height="67" fill="#b4b4b4" stroke="#222"/>
<rect x="851" y="1032.5" width="21" height="38.5" fill="#b4b4b4" stroke="#222"/>
<g stroke="#222" stroke-width="1.2" fill="none">
<line x1="832.5" y1="988" x2="832.5" y2="1021.6"/><line x1="828" y1="988" x2="837" y2="988"/><line x1="828" y1="1021.6" x2="837" y2="1021.6"/>
<line x1="861.5" y1="1030" x2="861.5" y2="1035"/><line x1="857" y1="1030" x2="866" y2="1030"/>
</g>
<g stroke="#222" stroke-width="1.3" fill="#fff">
<circle cx="832" cy="950" r="3.3"/><circle cx="832" cy="1003.4" r="3.3"/><circle cx="832" cy="1026.8" r="3.3"/><circle cx="832" cy="1039" r="3.3"/>
<circle cx="861" cy="1028" r="3.3"/><circle cx="861" cy="1034" r="3.3"/>
</g>
<g class="t" text-anchor="end" font-size="12">
<text x="808" y="945">25</text><text x="808" y="971">20</text><text x="808" y="997">15</text><text x="808" y="1023">10</text><text x="808" y="1049">5</text><text x="808" y="1075">0</text>
</g>
<text class="t" font-size="11" transform="translate(790,1007) rotate(-90)" text-anchor="middle">NPY<tspan font-size="7" dy="-4">+</tspan><tspan dy="4">SST</tspan><tspan font-size="7" dy="-4">+</tspan><tspan dy="4">/SST</tspan><tspan font-size="7" dy="-4">+</tspan><tspan dy="4"> (%)</tspan></text>
<g class="t" text-anchor="middle"><text x="834" y="1086">10x</text><text x="863" y="1086">IF</text><text x="827" y="1100">n = 4</text><text x="864" y="1100">3</text></g>

<!-- S -->
<g class="s">
<text x="897" y="1005">Human adult</text><text x="897" y="1023">endocrine</text>
<text x="1017" y="967">β</text><text x="1017" y="999">δ</text><text x="1017" y="1033">α</text><text x="1017" y="1065">PP</text>
<text x="1051" y="984">δ1</text><text x="1051" y="1018">δ2</text>
</g>

<!-- braces -->
<g stroke="#222" stroke-width="1.3" fill="none">
<path d="M990,150 Q985,150 985,156 L985,187 Q985,192 980,192 Q985,192 985,197 L985,226 Q985,232 990,232"/>
<path d="M1051,206 Q1046,206 1046,212 L1046,221 Q1046,226 1041,226 Q1046,226 1046,231 L1046,238 Q1046,244 1051,244"/>
<path d="M663,576 Q658,576 658,582 L658,617 Q658,622 653,622 Q658,622 658,627 L658,660 Q658,666 663,666"/>
<path d="M695,579 Q690,579 690,585 L690,591 Q690,596 685,596 Q690,596 690,601 L690,606 Q690,612 695,612"/>
<path d="M725,646 Q720,646 720,652 L720,658 Q720,663 715,663 Q720,663 720,668 L720,674 Q720,680 725,680"/>
<path d="M1011,960 Q1006,960 1006,966 L1006,1006 Q1006,1011 1001,1011 Q1006,1011 1006,1016 L1006,1054 Q1006,1060 1011,1060"/>
<path d="M1050,978 Q1045,978 1045,984 L1045,988 Q1045,993 1040,993 Q1045,993 1045,998 L1045,1002 Q1045,1008 1050,1008"/>
</g>
</svg>
</body></html>
